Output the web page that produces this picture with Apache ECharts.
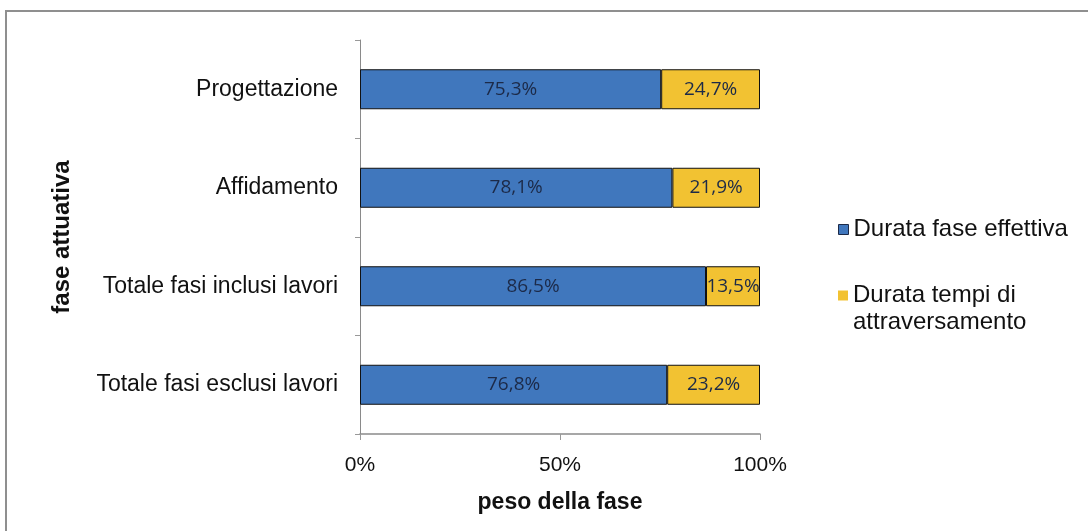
<!DOCTYPE html>
<html>
<head>
<meta charset="utf-8">
<script src="https://cdn.jsdelivr.net/npm/echarts@6/dist/echarts.min.js"></script>
<style>
html,body{margin:0;padding:0;background:#fff;}
#frame{position:absolute;left:5px;top:10px;width:1083px;height:521px;border-left:2px solid #8f8f8f;border-top:2px solid #8f8f8f;box-sizing:border-box;}
#main{position:absolute;left:0;top:0;width:1088px;height:531px;}
</style>
</head>
<body>
<div id="frame"></div>
<div id="main"></div>
<script>
const categories = ['Progettazione', 'Affidamento', 'Totale fasi inclusi lavori', 'Totale fasi esclusi lavori'];
const seriesNames = ['Durata fase effettiva', 'Durata tempi di attraversamento'];
const effettiva = [75.3, 78.1, 86.5, 76.8];
const attraversamento = [24.7, 21.9, 13.5, 23.2];
const xTicks = [0, 50, 100];

const fmt = v => v.toFixed(1).replace('.', ',') + '%';
const chart = echarts.init(document.getElementById('main'), null, {renderer: 'canvas'});
const labelStyle = {
  show: true, position: 'inside', color: '#1c2a48',
  fontFamily: 'Open Sans, Liberation Sans, sans-serif', fontSize: 19,
  formatter: p => fmt(p.value)
};
const legendFont = {fontFamily: 'Liberation Sans, Arial, sans-serif', fontSize: 24, color: '#111', lineHeight: 27};
chart.setOption({
  animation: false,
  backgroundColor: 'transparent',
  grid: {left: 360, right: 328, top: 40, bottom: 97, containLabel: false},
  legend: [
    {
      data: [{name: seriesNames[0], icon: 'rect', itemStyle: {borderColor: '#1c2a48', borderWidth: 1}}],
      orient: 'vertical', left: 838, top: 216, padding: 0,
      itemWidth: 10, itemHeight: 10, itemGap: 0,
      textStyle: legendFont
    },
    {
      data: [{name: seriesNames[1], icon: 'rect', itemStyle: {borderWidth: 0}}],
      orient: 'vertical', left: 838, top: 255, padding: 0,
      itemWidth: 10, itemHeight: 10, itemGap: 0,
      formatter: () => ' \nDurata tempi di\nattraversamento',
      textStyle: legendFont
    }
  ],
  xAxis: {
    type: 'value', min: 0, max: 100, interval: 50,
    name: 'peso della fase', nameLocation: 'middle', nameGap: 57,
    nameTextStyle: {fontFamily: 'Liberation Sans Narrow, Liberation Sans, sans-serif', fontWeight: 'bold', fontSize: 23, color: '#111'},
    axisLine: {show: true, lineStyle: {color: '#8a8a8a', width: 1.5}},
    axisTick: {show: true, length: 6, lineStyle: {color: '#999'}},
    splitLine: {show: false},
    axisLabel: {
      margin: 21, fontFamily: 'Liberation Sans Narrow, Liberation Sans, sans-serif', fontSize: 21, color: '#111',
      formatter: v => xTicks.includes(v) ? v + '%' : ''
    }
  },
  yAxis: {
    type: 'category', data: categories, inverse: true,
    name: 'fase attuativa', nameLocation: 'middle', nameGap: 286, nameRotate: 90,
    nameTextStyle: {fontFamily: 'Liberation Sans, Arial, sans-serif', fontWeight: 'bold', fontSize: 24, color: '#111'},
    axisLine: {show: true, lineStyle: {color: '#8a8a8a', width: 1}},
    axisTick: {show: true, length: 5, lineStyle: {color: '#999'}},
    axisLabel: {margin: 22, fontFamily: 'Liberation Sans, Arial, sans-serif', fontSize: 23, color: '#111'}
  },
  series: [
    {
      name: seriesNames[0], type: 'bar', stack: 'tot', data: effettiva, barWidth: 40,
      itemStyle: {color: '#4077bd', borderColor: '#111', borderWidth: 1},
      label: labelStyle
    },
    {
      name: seriesNames[1], type: 'bar', stack: 'tot', data: attraversamento, barWidth: 40,
      itemStyle: {color: '#f2c232', borderColor: '#111', borderWidth: 1},
      label: labelStyle
    }
  ]
});
</script>
</body>
</html>
